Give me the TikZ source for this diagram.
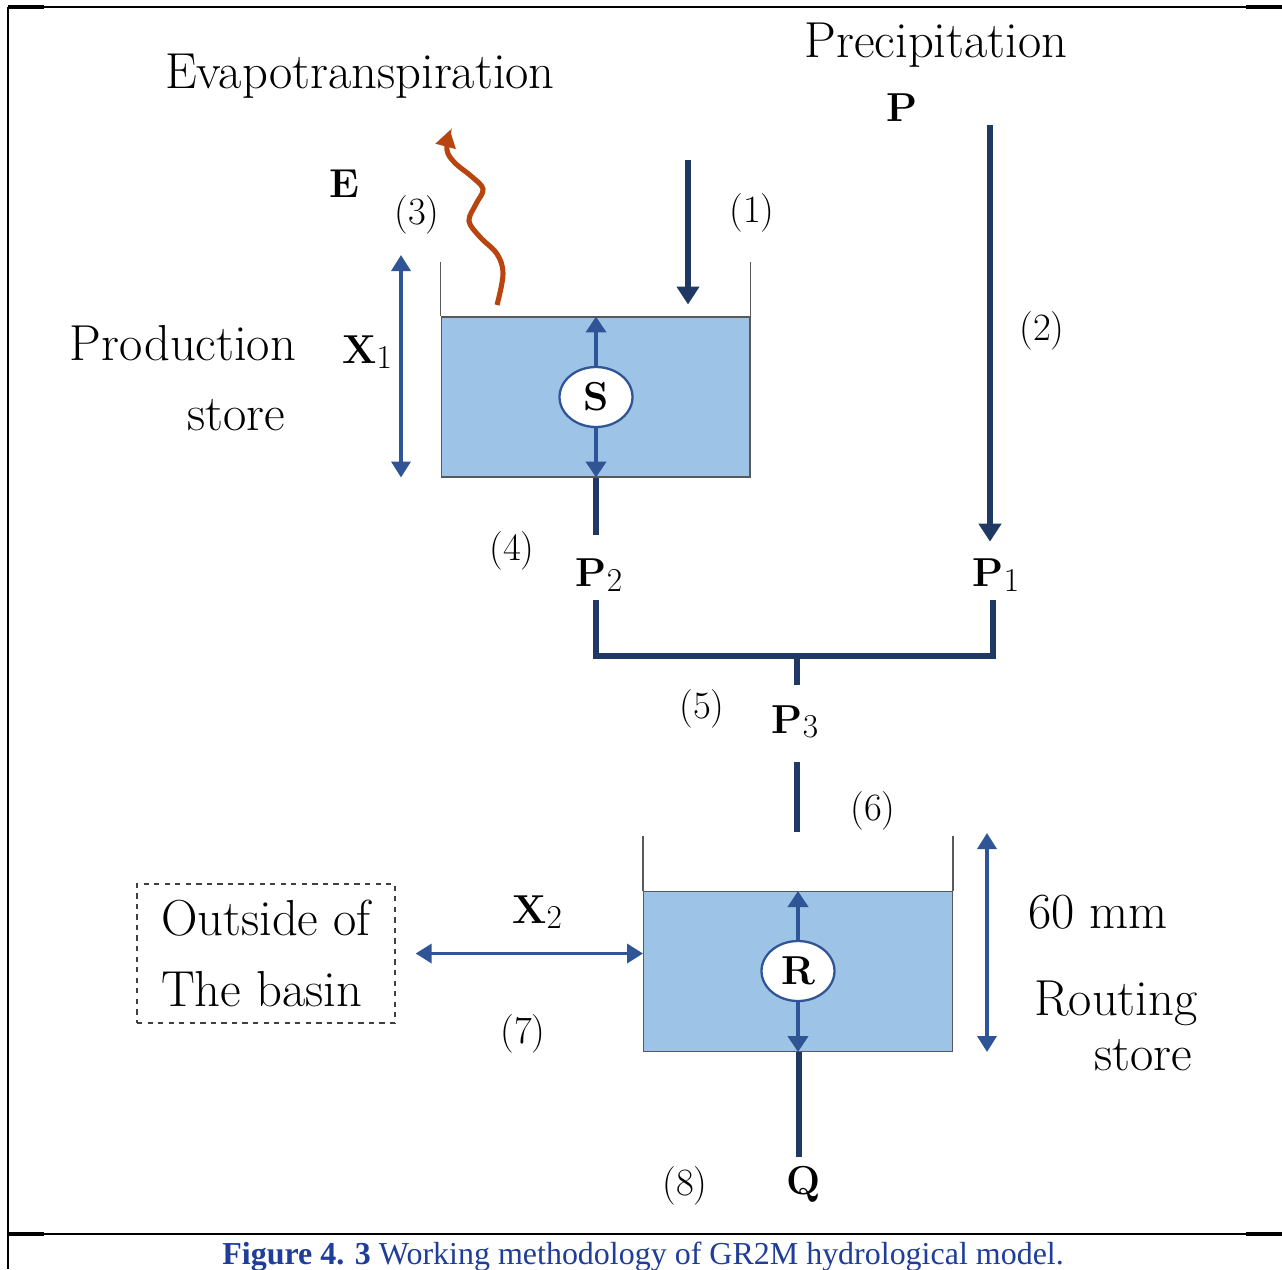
\documentclass[tikz,border=0pt]{standalone}
\usepackage{graphicx}
\usepackage{fontspec}
\newfontfamily\capfont{Liberation Serif}
\usepackage{tikz}
\usetikzlibrary{shapes}
\usetikzlibrary{arrows.meta}
\definecolor{navy}{HTML}{203864}
\definecolor{flowblue}{HTML}{2F5597}
\definecolor{water}{HTML}{9DC3E6}
\definecolor{vapour}{HTML}{B84510}
\definecolor{capblue}{HTML}{1F3D99}
\tikzset{
	big text/.style={font=\fontsize{28.8}{34}\selectfont, inner sep=0pt},
	num text/.style={font=\fontsize{22}{26}\selectfont, inner sep=0pt},
	sym text/.style={font=\fontsize{23}{27}\selectfont\bfseries, inner sep=0pt},
	tank/.style={draw=black!65, line width=0.6pt, fill=water, minimum width=6.18cm, minimum height=3.2cm, inner sep=0pt},
	wall/.style={draw=black!65, line width=0.8pt},
	store node/.style={ellipse, draw=flowblue, line width=1.3pt, fill=white, minimum width=1.46cm, minimum height=1.2cm, inner sep=0pt, font=\fontsize{23}{27}\selectfont\bfseries},
	flow/.style={draw=navy, line width=3.7pt},
	flow arrow/.style={flow, -{Triangle[length=0.36cm, width=0.44cm]}},
	level arrow/.style={draw=flowblue, line width=2pt, {Triangle[length=0.32cm, width=0.38cm]}-{Triangle[length=0.32cm, width=0.38cm]}},
	inner arrow/.style={draw=flowblue, line width=2.3pt, -{Triangle[length=0.32cm, width=0.4cm]}},
	dashed box/.style={draw=black!75, dashed, line width=0.8pt, minimum width=5.16cm, minimum height=2.78cm, align=left, font=\fontsize{28.8}{40}\selectfont}
}
\newcommand{\subdigit}[1]{{\fontsize{19}{19}\selectfont\mdseries\raisebox{-0.3ex}{#1}}}

\begin{document}
\begin{tikzpicture}[x=0.02cm, y=-0.02cm]
  \useasboundingbox (0,0) rectangle (1282,1269);

  % page frame
  \draw[line width=0.8pt] (8,7) -- (1282,7);
  \draw[line width=1.8pt] (8,7) -- (44,7) (1246,7) -- (1282,7);
  \draw[line width=1.1pt] (8,7) -- (8,1269);
  \draw[line width=0.8pt] (8,1234) -- (1282,1234);
  \draw[line width=1.8pt] (8,1234) -- (44,1234) (1246,1234) -- (1282,1234);

  % texts
  \node[big text] (precip) at (936,45) {Precipitation};
  \node[sym text] (p) at (902,108) {P};
  \node[big text] (evapo) at (360,76) {Evapotranspiration};
  \node[sym text] (e) at (344,184) {E};
  \node[num text] (n3) at (417,215) {(3)};
  \node[num text] (n1) at (752,213) {(1)};
  \node[num text] (n2) at (1042,331) {(2)};
  \node[big text] (prodA) at (183,343) {Production};
  \node[big text] (prodB) at (236,415) {store};
  \node[sym text] (x1) at (367,352) {X\subdigit{1}};
  \node[num text] (n4) at (512,551) {(4)};
  \node[sym text] (p2) at (599,575) {P\subdigit{2}};
  \node[sym text] (p1) at (996,575) {P\subdigit{1}};
  \node[num text] (n5) at (702,709) {(5)};
  \node[sym text] (p3) at (795,722) {P\subdigit{3}};
  \node[num text] (n6) at (873,811) {(6)};
  \node[sym text] (x2) at (537,912) {X\subdigit{2}};
  \node[big text] (mm) at (1098,912) {60 mm};
  \node[big text] (routA) at (1116,1003) {Routing};
  \node[big text] (routB) at (1143,1055) {store};
  \node[num text] (n7) at (523,1034) {(7)};
  \node[num text] (n8) at (685,1186) {(8)};
  \node[sym text] (q) at (804,1184) {Q};

  % production store
  \node[tank] (prod) at (595.5,397) {};
  \draw[wall] (prod.north west) -- ++(0,-54);
  \draw[wall] (prod.north east) -- ++(0,-54);
  \node[store node] (s) at (596,397) {S};
  \draw[inner arrow] (s.north) -- (s.north |- prod.north);
  \draw[inner arrow] (s.south) -- (s.south |- prod.south);
  \coordinate (x1 top) at (401,255);
  \draw[level arrow] (x1 top) -- (x1 top |- prod.south);

  % routing store
  \node[tank] (rout) at (798,971.5) {};
  \draw[wall] (rout.north west) -- ++(0,-55);
  \draw[wall] (rout.north east) -- ++(0,-55);
  \node[store node] (r) at (798,971) {R};
  \draw[inner arrow] (r.north) -- (r.north |- rout.north);
  \draw[inner arrow] (r.south) -- (r.south |- rout.south);
  \coordinate (mm top) at (987,833);
  \draw[level arrow] (mm top) -- (mm top |- rout.south);

  % outside of the basin
  \node[dashed box] (outside) at (266,953.5) {Outside of\\The basin};
  \draw[level arrow] ([xshift=0.4cm]outside.east) -- (rout.west |- outside.east);

  % evaporation
  \draw[vapour, line width=2.9pt, -{Triangle[length=0.34cm, width=0.4cm]}]
    plot[smooth, tension=0.6] coordinates {(497,305) (503,274) (497,254) (480,237) (469,221) (476,204) (483,189) (471,176) (455,163) (447,150) (450,130)};

  % rainfall
  \coordinate (rain top) at (688,160);
  \draw[flow arrow] (rain top) -- ([yshift=0.24cm]rain top |- prod.north);
  \coordinate (p top) at (990,125);
  \draw[flow arrow] (p top) -- ([yshift=0.34cm]p top |- p1.north);

  % P2 + P1 -> P3
  \coordinate (p2 end) at (596,535);
  \draw[flow] (prod.south -| p2 end) -- (p2 end);
  \coordinate (p2 low) at (596,600);
  \coordinate (p1 low) at (993,600);
  \coordinate (join) at (797,656);
  \draw[flow] (p2 low) -- (p2 low |- join) -- (p1 low |- join) -- (p1 low);
  \draw[flow] (join) -- ++(0,29);
  \coordinate (p3 low) at (797,762);
  \coordinate (p3 end) at (797,832);
  \draw[flow] (p3 low) -- (p3 end);

  % outflow
  \coordinate (q top) at (799,1157);
  \draw[flow] (rout.south -| q top) -- (q top);

  % caption
  \node[anchor=base west, inner sep=0pt, text=capblue, font=\capfont\fontsize{18.2}{22}\selectfont] (caption) at (222,1264)
    {\textbf{Figure 4. 3} Working methodology of GR2M hydrological model.};
\end{tikzpicture}
\end{document}
